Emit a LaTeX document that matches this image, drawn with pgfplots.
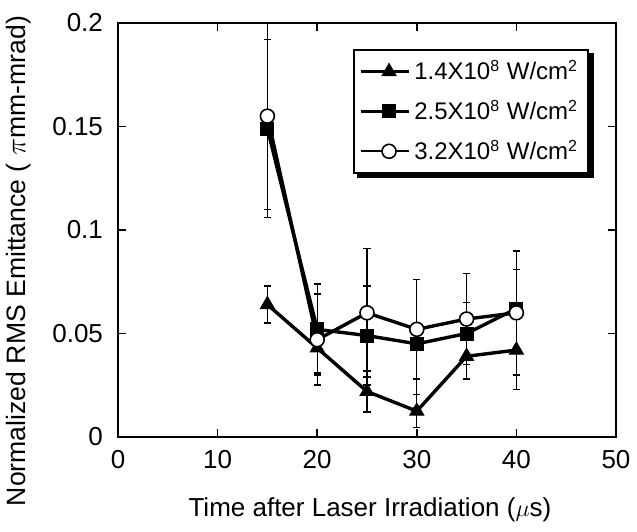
\documentclass[border=0pt]{standalone}
\usepackage{pgfplots}
\pgfplotsset{compat=1.18}
\usepackage{fontspec}
\setmainfont{Liberation Sans}
\usetikzlibrary{backgrounds}
\pgfplotsset{
  myerr/.style={error bars/.cd, y dir=both, y explicit,
    error bar style={line width=0.6pt, solid, black},
    error mark options={rotate=90, mark size=1.8pt, line width=0.8pt, black}},
}
\begin{document}
\begin{tikzpicture}
\path[use as bounding box] (-59pt,-47pt) rectangle (259.5pt,218.5pt);
\begin{axis}[
  scale only axis, width=249pt, height=207pt,
  at={(0,0)}, anchor=south west,
  xmin=0, xmax=50, ymin=0, ymax=0.2,
  xtick={0,10,20,30,40,50},
  ytick={0,0.05,0.1,0.15,0.2},
  yticklabels={0,0.05,0.1,0.15,0.2},
  tick align=inside, major tick length=4pt,
  axis line style={line width=1pt},
  tick style={line width=0.8pt, black},
  ticklabel style={font=\fontsize{13}{15}\selectfont},
  yticklabel style={xshift=-4pt},
  xticklabel style={yshift=-3pt},
  /pgf/number format/assume math mode=true,
  xlabel={Time after Laser Irradiation ($\mu$s)},
  ylabel={Normalized RMS Emittance ( $\pi$mm-mrad)},
  every axis x label/.style={at={(axis description cs:0.506,-0.176)}, anchor=center, font=\fontsize{13}{15}\selectfont},
  every axis y label/.style={at={(axis description cs:-0.2,0.425)}, anchor=center, rotate=90, font=\fontsize{13.3}{15}\selectfont},
  legend style={name=leg, at={(rel axis cs:0.946,0.937)}, anchor=north east, draw=black, line width=1pt,
    font=\fontsize{12}{14}\selectfont, fill=white,
    row sep=4.5pt, inner sep=3pt},
  legend cell align=left,
  legend image code/.code={\draw[#1, line width=1.2pt, mark repeat=2, mark phase=2] plot coordinates {(0pt,0pt) (14pt,0pt) (24pt,0pt)};},
]
\addplot[black, line width=1.7pt, mark=triangle*, mark size=4pt, mark options={solid, fill=black, line width=0.5pt}, myerr]
  table[x=x, y=y, y error=e] {
x y e
15 0.064 0.009
20 0.043 0.012
25 0.022 0.010
30 0.0125 0.008
35 0.039 0.011
40 0.042 0.019
};
\addlegendentry{1.4X10\textsuperscript{8} W/cm\textsuperscript{2}}
\addplot[black, line width=1.7pt, mark=square*, mark size=3.25pt, mark options={solid, fill=black, line width=0.5pt}, myerr]
  table[x=x, y=y, y error=e] {
x y e
15 0.149 0.043
20 0.052 0.022
25 0.049 0.024
30 0.045 0.031
35 0.050 0.015
40 0.062 0.019
};
\addlegendentry{2.5X10\textsuperscript{8} W/cm\textsuperscript{2}}
\addplot[black, line width=1.7pt, mark=*, mark size=3.5pt, mark options={solid, fill=white, line width=0.8pt}, myerr]
  table[x=x, y=y, y error=e] {
x y e
15 0.155 0.045
20 0.047 0.022
25 0.060 0.031
30 0.052 0.024
35 0.057 0.022
40 0.060 0.030
};
\addlegendentry{3.2X10\textsuperscript{8} W/cm\textsuperscript{2}}
\end{axis}
\begin{scope}[on background layer]
\fill[black] ([xshift=2.2pt,yshift=-2.2pt]leg.south west) rectangle ([xshift=2.2pt,yshift=-2.2pt]leg.north east);
\end{scope}
\end{tikzpicture}
\end{document}
